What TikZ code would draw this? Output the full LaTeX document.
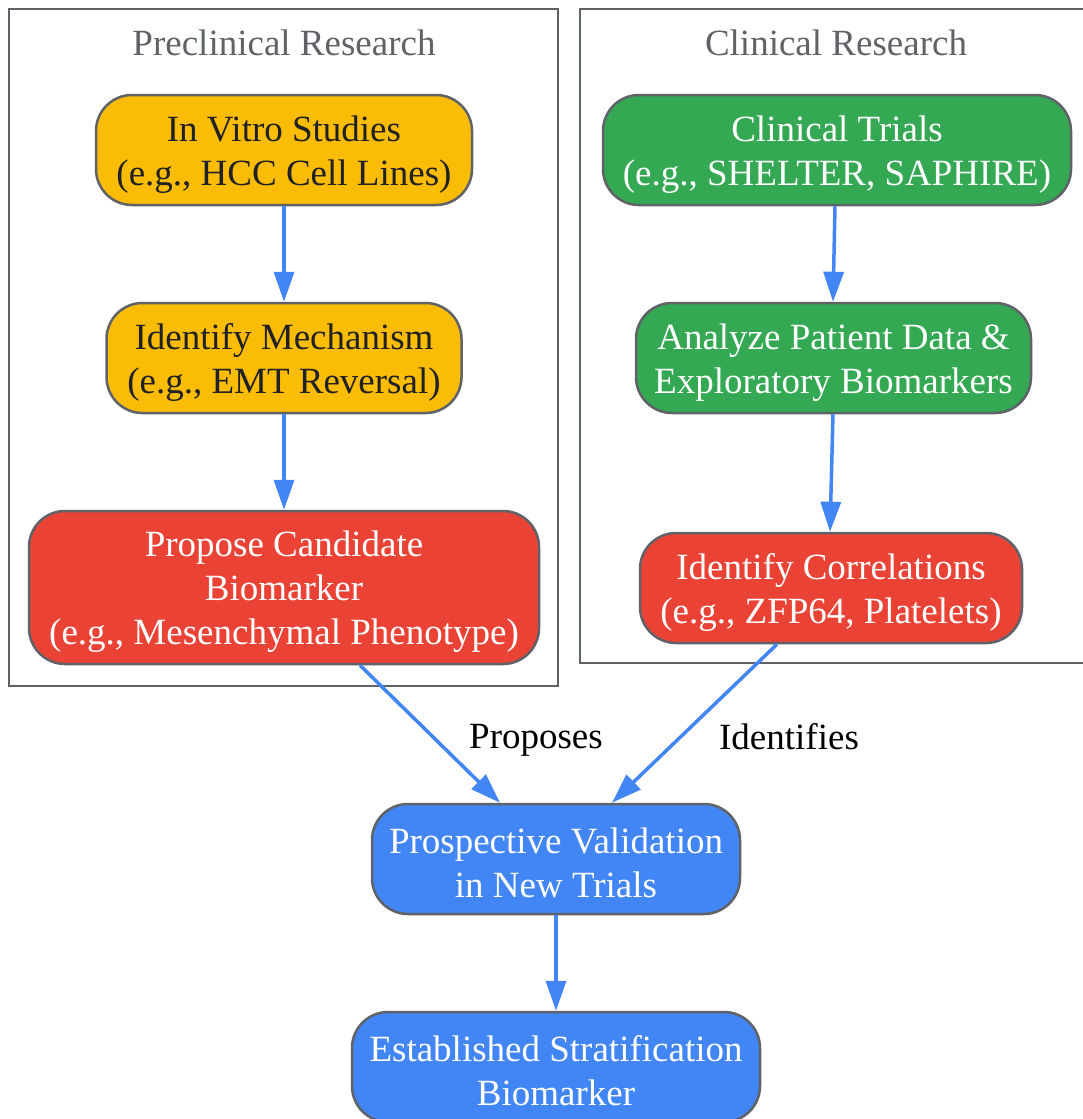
\documentclass[tikz,border=0pt]{standalone}
\usepackage{fontspec}
\setmainfont{Liberation Serif}
\usetikzlibrary{arrows.meta,calc}
\definecolor{gyellow}{HTML}{FBBC05}
\definecolor{ggreen}{HTML}{34A853}
\definecolor{gred}{HTML}{EA4335}
\definecolor{gblue}{HTML}{4285F4}
\definecolor{gborder}{HTML}{5F6368}
\definecolor{gtitle}{HTML}{5F6368}
\definecolor{gdark}{HTML}{202124}
\newcommand{\topstrut}{\rule{0pt}{34pt}}
\tikzset{
  box/.style={draw=gborder, line width=2.5pt, rounded corners=36pt, align=center, inner sep=0pt,
    font=\fontsize{37}{44}\selectfont},
  yellowbox/.style={box, fill=gyellow, text=gdark},
  greenbox/.style={box, fill=ggreen, text=white},
  redbox/.style={box, fill=gred, text=white},
  bluebox/.style={box, fill=gblue, text=white},
  cluster/.style={draw=gborder, line width=2pt},
  ctitle/.style={text=gtitle, font=\fontsize{37}{44}\selectfont},
  conn/.style={draw=gblue, line width=3.5pt, -{Triangle[length=30pt,width=20pt]}},
  elabel/.style={text=black, font=\fontsize{37}{44}\selectfont}
}
\begin{document}
\begin{tikzpicture}[x=1pt,y=-1pt]
\useasboundingbox (0,0) rectangle (1083,1119);
\fill[white] (0,0) rectangle (1083,1119);
% clusters
\draw[cluster] (9,9) rectangle (558,686);
\node[ctitle] (t1) at (284,43) {Preclinical Research};
\draw[cluster] (580,9) rectangle (1095,663);
\node[ctitle] (t2) at (836,43) {Clinical Research};
% nodes
\node[yellowbox, minimum width=376pt, minimum height=110pt] (A) at (284,150) {\topstrut In Vitro Studies\\(e.g., HCC Cell Lines)};
\node[yellowbox, minimum width=355pt, minimum height=110pt] (B) at (284,358) {\topstrut Identify Mechanism\\(e.g., EMT Reversal)};
\node[redbox, minimum width=510pt, minimum height=153pt] (C) at (284,587.5) {\topstrut Propose Candidate\\Biomarker\\(e.g., Mesenchymal Phenotype)};
\node[greenbox, minimum width=468pt, minimum height=110pt] (D) at (837,150) {\topstrut Clinical Trials\\(e.g., SHELTER, SAPHIRE)};
\node[greenbox, minimum width=395pt, minimum height=110pt] (E) at (833.5,358) {\topstrut Analyze Patient Data \&\\Exploratory Biomarkers};
\node[redbox, minimum width=382pt, minimum height=110pt] (F) at (831,588) {\topstrut Identify Correlations\\(e.g., ZFP64, Platelets)};
\node[bluebox, minimum width=368pt, minimum height=110pt] (G) at (556,859) {\topstrut Prospective Validation\\in New Trials};
\node[bluebox, minimum width=408pt, minimum height=110pt] (H) at (556,1067) {\topstrut Established Stratification\\Biomarker};
% edge labels
\node[elabel] (l1) at (536,740) {Proposes};
\node[elabel] (l2) at (789,737) {Identifies};
% connectors
\draw[conn] (A.south) -- (B.north);
\draw[conn] (B.south) -- (C.north);
\draw[conn] ($(D.south)+(-2,0)$) -- ($(E.north)+(-0.5,0)$);
\draw[conn] ($(E.south)+(-0.5,0)$) -- ($(F.north)+(-1,0)$);
\draw[conn] ($(C.south)+(76,0)$) -- ($(G.north)+(-56,0)$);
\draw[conn] ($(F.south)+(-54,0)$) -- ($(G.north)+(56,0)$);
\draw[conn] (G.south) -- (H.north);
\end{tikzpicture}
\end{document}
